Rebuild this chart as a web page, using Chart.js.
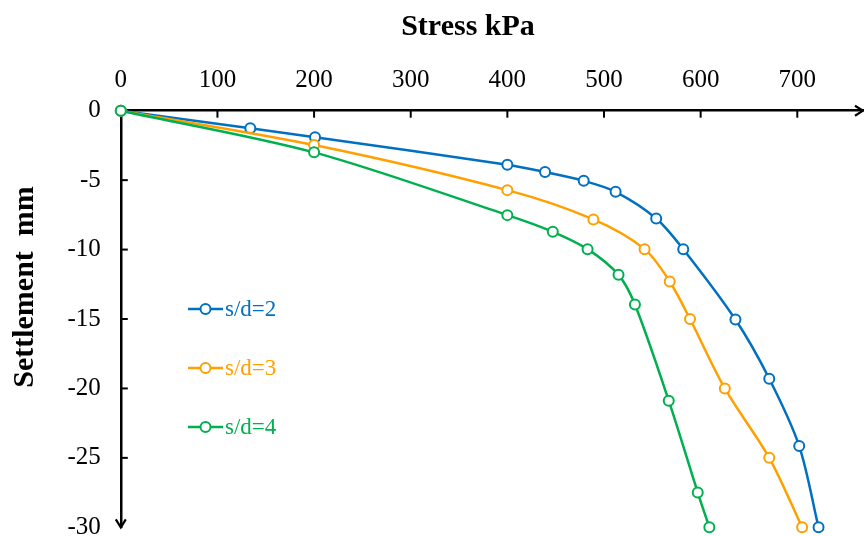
<!DOCTYPE html>
<html>
<head>
<meta charset="utf-8">
<title>Stress - Settlement</title>
<script src="https://cdn.jsdelivr.net/npm/chart.js@4/dist/chart.umd.min.js"></script>
<style>
  html, body { margin: 0; padding: 0; background: #fff; overflow: hidden; }
  #wrap { width: 864px; height: 536px; position: relative; }
  #settlementChart { display: block; }
</style>
</head>
<body>
<div id="wrap"><canvas id="settlementChart"></canvas></div>
<script>
// Load–settlement curves for three pile spacings
const stressSd2 = [0, 134, 201, 400, 439, 479, 512, 554, 582, 636, 671, 702, 722];
const settleSd2 = [0, -1.27, -1.92, -3.89, -4.42, -5.05, -5.84, -7.76, -9.97, -15.04, -19.3, -24.15, -30];

const stressSd3 = [0, 200, 400, 489, 542, 568, 589, 625, 671, 705];
const settleSd3 = [0, -2.47, -5.72, -7.83, -9.97, -12.3, -15.0, -20.0, -25.0, -30];

const stressSd4 = [0, 200, 400, 447, 483, 515, 532, 567, 597, 609];
const settleSd4 = [0, -3.0, -7.52, -8.72, -9.97, -11.82, -13.96, -20.88, -27.5, -30];

const seriesLabels = ['s/d=2', 's/d=3', 's/d=4'];
const seriesColors = ['#0070c0', '#ffa000', '#00b050'];

const xTitle = 'Stress kPa';
const yTitle = 'Settlement  mm';

const SERIF = '"Liberation Serif", "Times New Roman", serif';

function toPoints(xs, ys) {
    return xs.map((x, i) => ({ x: x, y: ys[i] }));
}

function lineSet(idx, xs, ys, order) {
    return {
        label: seriesLabels[idx],
        data: toPoints(xs, ys),
        borderColor: seriesColors[idx],
        backgroundColor: '#ffffff',
        pointBackgroundColor: '#ffffff',
        pointBorderColor: seriesColors[idx],
        pointBorderWidth: 2,
        pointRadius: 5,
        borderWidth: 2.5,
        tension: 0.3,
        fill: false,
        clip: false,
        order: order
    };
}

// axis decorations: inward ticks, arrow heads, titles and the in-plot legend
const decorations = {
    id: 'decorations',
    afterDraw(chart) {
        const { ctx, chartArea: area, scales: { x, y } } = chart;
        ctx.save();
        ctx.strokeStyle = '#000';
        ctx.lineWidth = 2;

        x.ticks.forEach(t => {
            if (t.value === 0) return;
            const px = x.getPixelForValue(t.value);
            ctx.beginPath();
            ctx.moveTo(px, area.top);
            ctx.lineTo(px, area.top + 7);
            ctx.stroke();
        });
        y.ticks.forEach(t => {
            if (t.value === 0 || t.value === y.min) return;
            const py = y.getPixelForValue(t.value);
            ctx.beginPath();
            ctx.moveTo(area.left, py);
            ctx.lineTo(area.left + 7, py);
            ctx.stroke();
        });

        // arrow heads
        ctx.lineWidth = 2.2;
        ctx.beginPath();
        ctx.moveTo(area.right - 8, area.top - 5);
        ctx.lineTo(area.right, area.top);
        ctx.lineTo(area.right - 8, area.top + 5);
        ctx.stroke();
        ctx.beginPath();
        ctx.moveTo(area.left - 5, area.bottom - 8);
        ctx.lineTo(area.left, area.bottom);
        ctx.lineTo(area.left + 5, area.bottom - 8);
        ctx.stroke();

        // titles
        ctx.fillStyle = '#000';
        ctx.font = 'bold 30px ' + SERIF;
        ctx.textAlign = 'center';
        ctx.textBaseline = 'alphabetic';
        ctx.fillText(xTitle, 468, 35);

        ctx.save();
        ctx.translate(33, 287);
        ctx.rotate(-Math.PI / 2);
        ctx.fillText(yTitle, 0, 0);
        ctx.restore();

        // legend
        ctx.font = '23px ' + SERIF;
        ctx.textAlign = 'left';
        ctx.textBaseline = 'middle';
        chart.data.datasets.forEach((ds, i) => {
            const ly = 309 + i * 59;
            ctx.strokeStyle = ds.borderColor;
            ctx.lineWidth = 2.5;
            ctx.beginPath();
            ctx.moveTo(188, ly);
            ctx.lineTo(223, ly);
            ctx.stroke();
            ctx.beginPath();
            ctx.arc(205.5, ly, 5, 0, Math.PI * 2);
            ctx.fillStyle = '#fff';
            ctx.fill();
            ctx.lineWidth = 2;
            ctx.stroke();
            ctx.fillStyle = ds.borderColor;
            ctx.fillText(ds.label, 225, ly + 1);
        });
        ctx.restore();
    }
};

const ctx = document.getElementById('settlementChart').getContext('2d');
new Chart(ctx, {
    type: 'line',
    data: {
        datasets: [
            lineSet(0, stressSd2, settleSd2, 2),
            lineSet(1, stressSd3, settleSd3, 1),
            lineSet(2, stressSd4, settleSd4, 0)
        ]
    },
    options: {
        responsive: true,
        maintainAspectRatio: false,
        animation: false,
        devicePixelRatio: 1,
        layout: { autoPadding: false, padding: { left: 0, right: 1, top: 0, bottom: 8.7 } },
        plugins: {
            legend: { display: false },
            tooltip: { enabled: false }
        },
        scales: {
            x: {
                type: 'linear',
                position: 'top',
                min: 0,
                max: 768,
                grid: { display: true, drawOnChartArea: false, drawTicks: false },
                border: { display: true, color: '#000', width: 2.5 },
                ticks: {
                    stepSize: 100,
                    includeBounds: false,
                    padding: 15,
                    color: '#000',
                    font: { family: SERIF, size: 25 },
                    maxRotation: 0
                },
                afterFit(scale) {
                    scale.height = 110.7;
                    scale.paddingLeft = 0;
                    scale.paddingRight = 0;
                }
            },
            y: {
                type: 'linear',
                min: -30,
                max: 0,
                grid: { display: true, drawOnChartArea: false, drawTicks: false },
                border: { display: true, color: '#000', width: 2.5 },
                ticks: {
                    stepSize: 5,
                    padding: 20,
                    color: '#000',
                    font: { family: SERIF, size: 25 }
                },
                afterFit(scale) {
                    scale.width = 120.8;
                    scale.paddingTop = 0;
                    scale.paddingBottom = 0;
                }
            }
        }
    },
    plugins: [decorations]
});
</script>
</body>
</html>
